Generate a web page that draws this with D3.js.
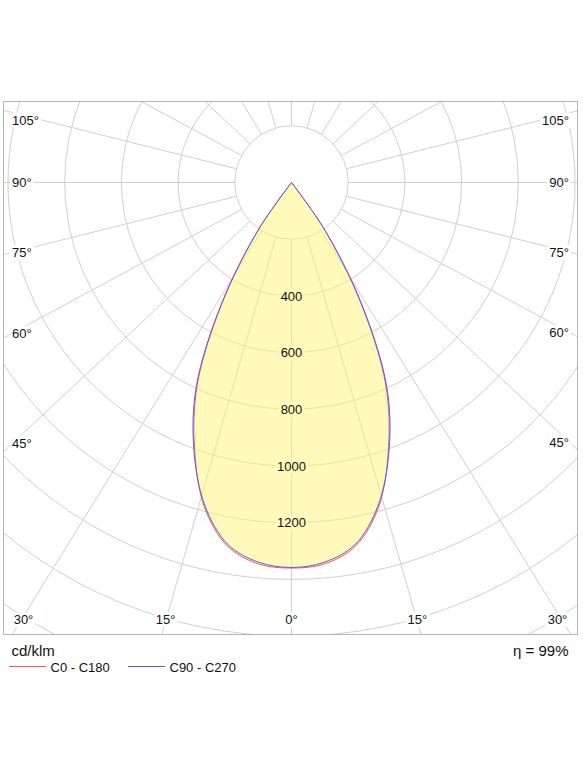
<!DOCTYPE html>
<html>
<head>
<meta charset="utf-8">
<script src="https://cdn.jsdelivr.net/npm/d3@7"></script>
<style>
  body { margin: 0; background: #fff; }
  text { font-family: 'Liberation Sans', Arial, sans-serif; fill: #111; }
</style>
</head>
<body>
<script>
// luminous intensity, cd/klm, read at gamma angles from the nadir
const gammaAngles = [0, 5, 10, 15, 20, 25, 30, 35, 40];
const c0c180 = [1360, 1350, 1302, 1186, 1000, 786, 486, 200, 0];
const c90c270 = [1358, 1344, 1296, 1180, 1006, 795, 494, 208, 0];

const ringValues = [200, 400, 600, 800, 1000, 1200, 1400, 1600, 1800, 2000];
const ringLabels = [400, 600, 800, 1000, 1200];
const spokeAngles = [0, 15, 30, 45, 60, 75, 90, 105, 120, 135, 150, 165, 180, 195, 210, 225, 240, 255, 270, 285, 300, 315, 330, 345];
const bottomLabels = [0, 15, 30];
const sideLabels = [45, 60, 75, 90, 105];

const legendNames = ['C0 - C180', 'C90 - C270'];
const legendColors = ['#f25a5a', '#5a5af0'];
const unitText = 'cd/klm';
const etaText = 'η = 99%';

const width = 583;
const height = 777;
const frame = { left: 3.5, top: 101.5, right: 577.5, bottom: 634.5 };
const cx = 291.5, cy = 182.5;
const stretch = 1.07;

const r = d3.scaleLinear().domain([0, 200]).range([0, 56.7]);

const svg = d3.select('body').append('svg')
  .attr('width', width)
  .attr('height', height);

svg.append('rect').attr('width', width).attr('height', height).attr('fill', '#fff');

svg.append('defs').append('clipPath').attr('id', 'frame-clip')
  .append('rect')
  .attr('x', frame.left).attr('y', frame.top)
  .attr('width', frame.right - frame.left).attr('height', frame.bottom - frame.top);

const plot = svg.append('g').attr('clip-path', 'url(#frame-clip)');
const grid = plot.append('g').attr('transform', `translate(${cx},${cy})`);

grid.selectAll('circle')
  .data(ringValues)
  .enter()
  .append('circle')
  .attr('r', d => r(d))
  .attr('fill', 'none')
  .attr('stroke', '#cfcfcf')
  .attr('stroke-width', 1);

const dir = (phi, side) => {
  let a = phi * Math.PI / 180;
  let dx = side * stretch * Math.sin(a), dy = Math.cos(a);
  let n = Math.hypot(dx, dy);
  return [dx / n, dy / n];
};

grid.selectAll('line')
  .data(spokeAngles)
  .enter()
  .append('line')
  .each(function (d) {
    let [ux, uy] = dir(d, 1);
    d3.select(this)
      .attr('x1', ux * r(200)).attr('y1', uy * r(200))
      .attr('x2', ux * 1200).attr('y2', uy * 1200);
  })
  .attr('stroke', '#cfcfcf')
  .attr('stroke-width', 1);

// light distribution curves
const curvePoints = values => {
  let pts = [];
  for (let i = gammaAngles.length - 1; i > 0; i--) pts.push([-gammaAngles[i], values[i]]);
  for (let i = 0; i < gammaAngles.length; i++) pts.push([gammaAngles[i], values[i]]);
  return pts;
};

const radial = d3.lineRadial()
  .angle(d => Math.PI - d[0] * Math.PI / 180)
  .radius(d => r(d[1]))
  .curve(d3.curveCatmullRom.alpha(0.5));

const shapes = plot.append('g').attr('transform', `translate(${cx},${cy})`);

shapes.append('path')
  .attr('d', radial(curvePoints(c0c180)) + 'Z')
  .attr('fill', '#fff573')
  .attr('fill-opacity', 0.5);

[c0c180, c90c270].forEach((series, i) => {
  shapes.append('path')
    .attr('d', radial(curvePoints(series)) + 'Z')
    .attr('fill', 'none')
    .attr('stroke', legendColors[i])
    .attr('stroke-width', 1);
});

// labels with a background box
const boxedText = (g, x, y, text, anchor, bg) => {
  let lab = g.append('g');
  let box = lab.append('rect').attr('fill', bg);
  let t = lab.append('text')
    .attr('x', x).attr('y', y)
    .attr('dy', '0.36em')
    .attr('text-anchor', anchor)
    .style('font-size', '13px')
    .text(text);
  let b = t.node().getBBox();
  box.attr('x', b.x - 2).attr('y', b.y).attr('width', b.width + 4).attr('height', b.height);
};

const labels = plot.append('g');

ringLabels.forEach(v => {
  boxedText(labels, cx, cy + r(v), v, 'middle', '#fffab9');
});

[-1, 1].forEach(side => {
  bottomLabels.forEach(a => {
    if (a === 0 && side === 1) return;
    let [ux, uy] = dir(a, side);
    let yb = frame.bottom - 15;
    let xb = cx + (yb + 2 - cy) / uy * ux;
    xb = Math.min(Math.max(xb, frame.left + 20), frame.right - 20);
    boxedText(labels, xb, yb, a + '°', 'middle', '#fff');
  });
  sideLabels.forEach(a => {
    let [ux, uy] = dir(a, side);
    let xa = side < 0 ? frame.left + 8.5 : frame.right - 8.5;
    let ys = Math.max(cy + (xa - cx) / ux * uy, frame.top + 18.5);
    boxedText(labels, xa, ys, a + '°', side < 0 ? 'start' : 'end', '#fff');
  });
});

svg.append('rect')
  .attr('x', frame.left).attr('y', frame.top)
  .attr('width', frame.right - frame.left).attr('height', frame.bottom - frame.top)
  .attr('fill', 'none')
  .attr('stroke', '#b4b4b4')
  .attr('stroke-width', 1);

// footer
svg.append('text')
  .attr('x', 11.5).attr('y', 655.5)
  .style('font-size', '15px')
  .text(unitText);

svg.append('text')
  .attr('x', 568.5).attr('y', 655.5)
  .attr('text-anchor', 'end')
  .style('font-size', '15px')
  .text(etaText);

const legend = svg.append('g').attr('transform', 'translate(9,666.5)');

legendNames.forEach((name, i) => {
  let item = legend.append('g').attr('transform', `translate(${i * 119},0)`);
  item.append('line')
    .attr('x1', 0).attr('x2', 37)
    .attr('stroke', legendColors[i])
    .attr('stroke-width', 1);
  item.append('text')
    .attr('x', 41.5).attr('y', 5)
    .style('font-size', '13px')
    .text(name);
});
</script>
</body>
</html>
